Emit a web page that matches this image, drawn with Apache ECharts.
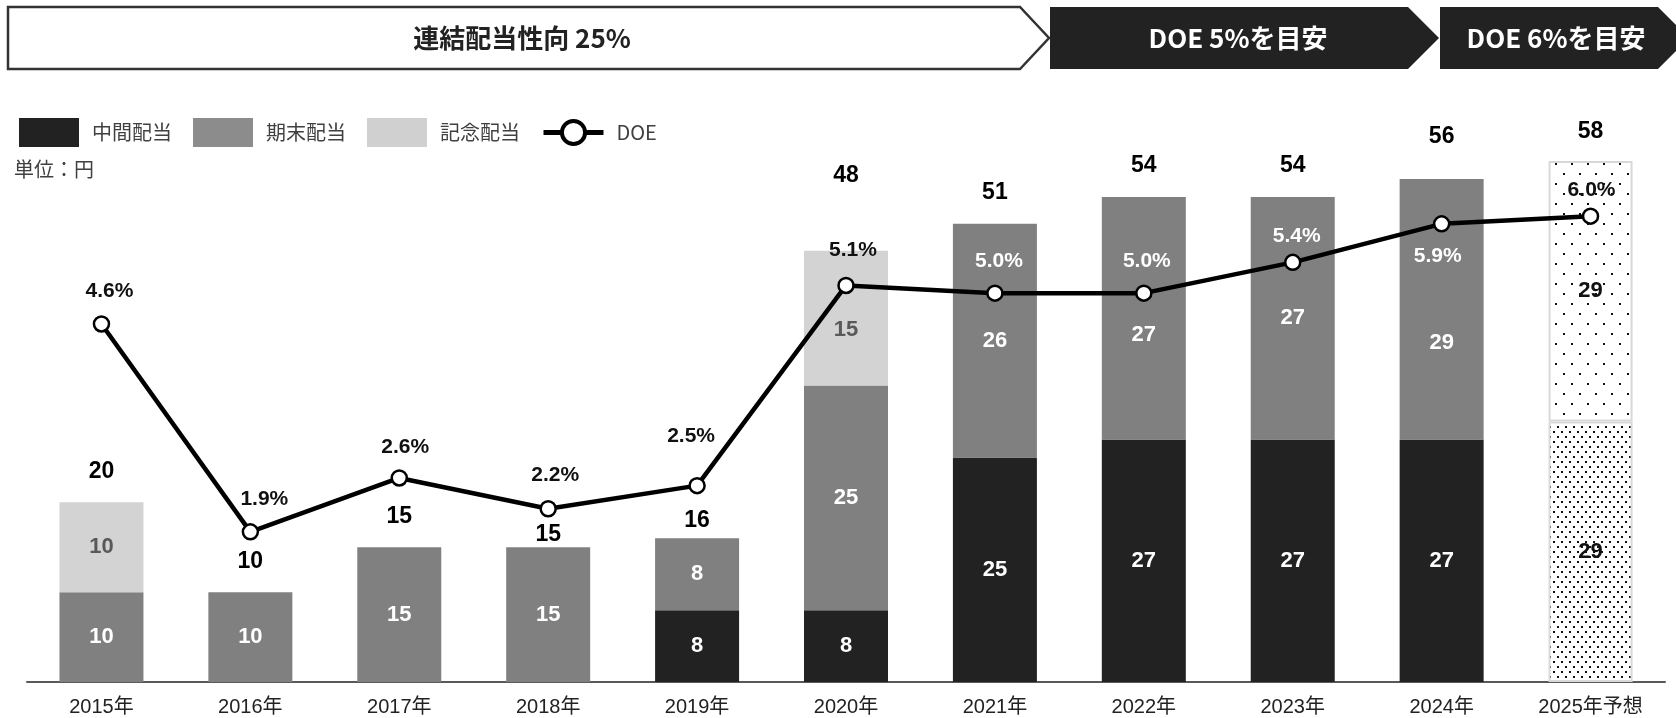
<!DOCTYPE html>
<html>
<head>
<meta charset="utf-8">
<title>配当推移</title>
<script src="https://cdn.jsdelivr.net/npm/echarts@6/dist/echarts.min.js"></script>
<style>
  html, body { margin: 0; padding: 0; background: #fff; }
  #chart { width: 1676px; height: 718px; }
</style>
</head>
<body>
<div id="chart"></div>
<script>
  var years = ['2015年', '2016年', '2017年', '2018年', '2019年', '2020年', '2021年', '2022年', '2023年', '2024年', '2025年予想'];
  var interim = [null, null, null, null, 8, 8, 25, 27, 27, 27, 29];
  var yearEnd = [10, 10, 15, 15, 8, 25, 26, 27, 27, 29, 29];
  var commemorative = [10, null, null, null, null, 15, null, null, null, null, null];
  var doe = [4.6, 1.9, 2.6, 2.2, 2.5, 5.1, 5.0, 5.0, 5.4, 5.9, 6.0];
  var forecastIndex = 10;

  var legendNames = ['中間配当', '期末配当', '記念配当', 'DOE'];
  var banners = ['連結配当性向 25%', 'DOE 5%を目安', 'DOE 6%を目安'];
  var unitText = '単位：円';

  // label nudges (px) so text does not collide, like the original
  var totalShift = [0, 0, 0, 18, 13, -44, 0, 0, 0, -11, 2];
  var doeShift = [[8, 0], [14, 0], [6, 2], [7, -1], [-6, -17], [7, -3], [4, 0], [3, 0], [4, 6], [-4, 0], [1, 6]];
  var doeWhite = [false, false, false, false, false, false, true, true, true, true, false];
  var yearEndShift = [0, 0, 0, 0, 0, 0, 0, 17, 0, 34, 0];
  var memoShift = [0, 0, 0, 0, 0, 12, 0, 0, 0, 0, 0];

  var numFont = "'Liberation Sans', 'Noto Sans CJK JP', sans-serif";
  var jpFont = "'Noto Sans CJK JP', sans-serif";

  function dotPattern(w, h, pts) {
    var c = document.createElement('canvas');
    c.width = w;
    c.height = h;
    var ctx = c.getContext('2d');
    ctx.fillStyle = '#fff';
    ctx.fillRect(0, 0, w, h);
    ctx.fillStyle = '#111';
    pts.forEach(function (p) {
      ctx.fillRect(p[0], p[1], 2, 2);
    });
    return { image: c, repeat: 'repeat' };
  }
  var densePattern = dotPattern(8, 10, [[1, 1], [5, 6]]);
  var sparsePattern = dotPattern(16, 20, [[3, 3], [11, 13]]);

  var totals = years.map(function (y, i) {
    return (interim[i] || 0) + (yearEnd[i] || 0) + (commemorative[i] || 0);
  });

  function barData(arr, pattern, shifts) {
    return arr.map(function (v, i) {
      var item = { value: v };
      if (shifts && shifts[i]) {
        item.label = { offset: [0, shifts[i]] };
      }
      if (i === forecastIndex && v != null) {
        item.itemStyle = { color: pattern, borderColor: '#d9d9d9', borderWidth: 2 };
        item.label = { color: '#111' };
      }
      return item;
    });
  }

  var chart = echarts.init(document.getElementById('chart'));

  var labelBase = {
    show: true,
    fontFamily: numFont,
    fontWeight: 'bold',
    fontSize: 22
  };

  var bannerShapes = [
    { pts: [[8, 7], [1020, 7], [1049, 38], [1020, 69], [8, 69]], fill: '#fff', stroke: '#333', cx: 522, color: '#222' },
    { pts: [[1050, 7], [1408, 7], [1439, 38], [1408, 69], [1050, 69]], fill: '#222', stroke: null, cx: 1238, color: '#fff' },
    { pts: [[1440, 7], [1658, 7], [1689, 38], [1658, 69], [1440, 69]], fill: '#222', stroke: null, cx: 1556, color: '#fff' }
  ];
  var graphics = [];
  bannerShapes.forEach(function (b, i) {
    graphics.push({
      type: 'polygon',
      shape: { points: b.pts },
      style: { fill: b.fill, stroke: b.stroke, lineWidth: 2.5 }
    });
    graphics.push({
      type: 'text',
      x: b.cx,
      y: 38,
      style: {
        text: banners[i],
        fill: b.color,
        font: 'bold 26px ' + jpFont,
        align: 'center',
        verticalAlign: 'middle'
      }
    });
  });
  graphics.push({
    type: 'text',
    left: 14,
    top: 159,
    style: { text: unitText, fill: '#404040', font: '20px ' + jpFont }
  });

  chart.setOption({
    backgroundColor: '#fff',
    animation: false,
    graphic: graphics,
    legend: {
      left: 14,
      top: 113,
      itemWidth: 60,
      itemHeight: 29,
      itemGap: 21,
      textStyle: {
        fontFamily: jpFont,
        fontSize: 20,
        color: '#404040',
        padding: [0, 0, 0, 8]
      },
      data: [
        { name: legendNames[0], icon: 'rect' },
        { name: legendNames[1], icon: 'rect', itemStyle: { color: '#8c8c8c' } },
        { name: legendNames[2], icon: 'rect', itemStyle: { color: '#d0d0d0' } },
        { name: legendNames[3], itemStyle: { borderWidth: 4 }, lineStyle: { width: 5 } }
      ]
    },
    grid: {
      left: 27,
      right: 11,
      top: 143,
      bottom: 36
    },
    xAxis: {
      type: 'category',
      data: years,
      axisTick: { show: false },
      axisLine: { lineStyle: { color: '#595959', width: 2 } },
      axisLabel: {
        margin: 15,
        color: '#222',
        fontSize: 20,
        fontFamily: numFont
      }
    },
    yAxis: [{
      type: 'value',
      min: 0,
      max: 60,
      show: false
    }, {
      type: 'value',
      min: -0.05,
      max: 6.95,
      show: false
    }],
    series: [{
      name: legendNames[0],
      type: 'bar',
      stack: 'div',
      barWidth: 84,
      itemStyle: { color: '#222222' },
      label: Object.assign({}, labelBase, { color: '#fff' }),
      data: barData(interim, densePattern)
    }, {
      name: legendNames[1],
      type: 'bar',
      stack: 'div',
      barWidth: 84,
      itemStyle: { color: '#808080' },
      label: Object.assign({}, labelBase, { color: '#fff' }),
      data: barData(yearEnd, sparsePattern, yearEndShift)
    }, {
      name: legendNames[2],
      type: 'bar',
      stack: 'div',
      barWidth: 84,
      itemStyle: { color: '#d3d3d3' },
      label: Object.assign({}, labelBase, { color: '#595959' }),
      data: barData(commemorative, sparsePattern, memoShift)
    }, {
      name: 'total',
      type: 'scatter',
      symbolSize: 1,
      itemStyle: { color: 'rgba(0,0,0,0)', opacity: 1 },
      silent: true,
      z: 5,
      label: {
        show: true,
        position: 'top',
        distance: 19,
        color: '#000',
        opacity: 1,
        fontFamily: numFont,
        fontWeight: 'bold',
        fontSize: 23
      },
      data: totals.map(function (v, i) {
        return { value: v, label: { offset: [0, totalShift[i]] } };
      })
    }, {
      name: legendNames[3],
      type: 'line',
      yAxisIndex: 1,
      z: 10,
      symbol: 'circle',
      symbolSize: 15,
      lineStyle: { color: '#000', width: 4.5 },
      itemStyle: { color: '#fff', borderColor: '#000', borderWidth: 2.5 },
      label: {
        show: true,
        position: 'top',
        distance: 13,
        fontFamily: numFont,
        fontWeight: 'bold',
        fontSize: 21,
        formatter: function (p) {
          return p.value.toFixed(1) + '%';
        }
      },
      data: doe.map(function (v, i) {
        return {
          value: v,
          label: {
            position: i === 9 ? 'bottom' : 'top',
            offset: doeShift[i],
            color: doeWhite[i] ? '#fff' : '#111'
          }
        };
      })
    }]
  });
</script>
</body>
</html>
